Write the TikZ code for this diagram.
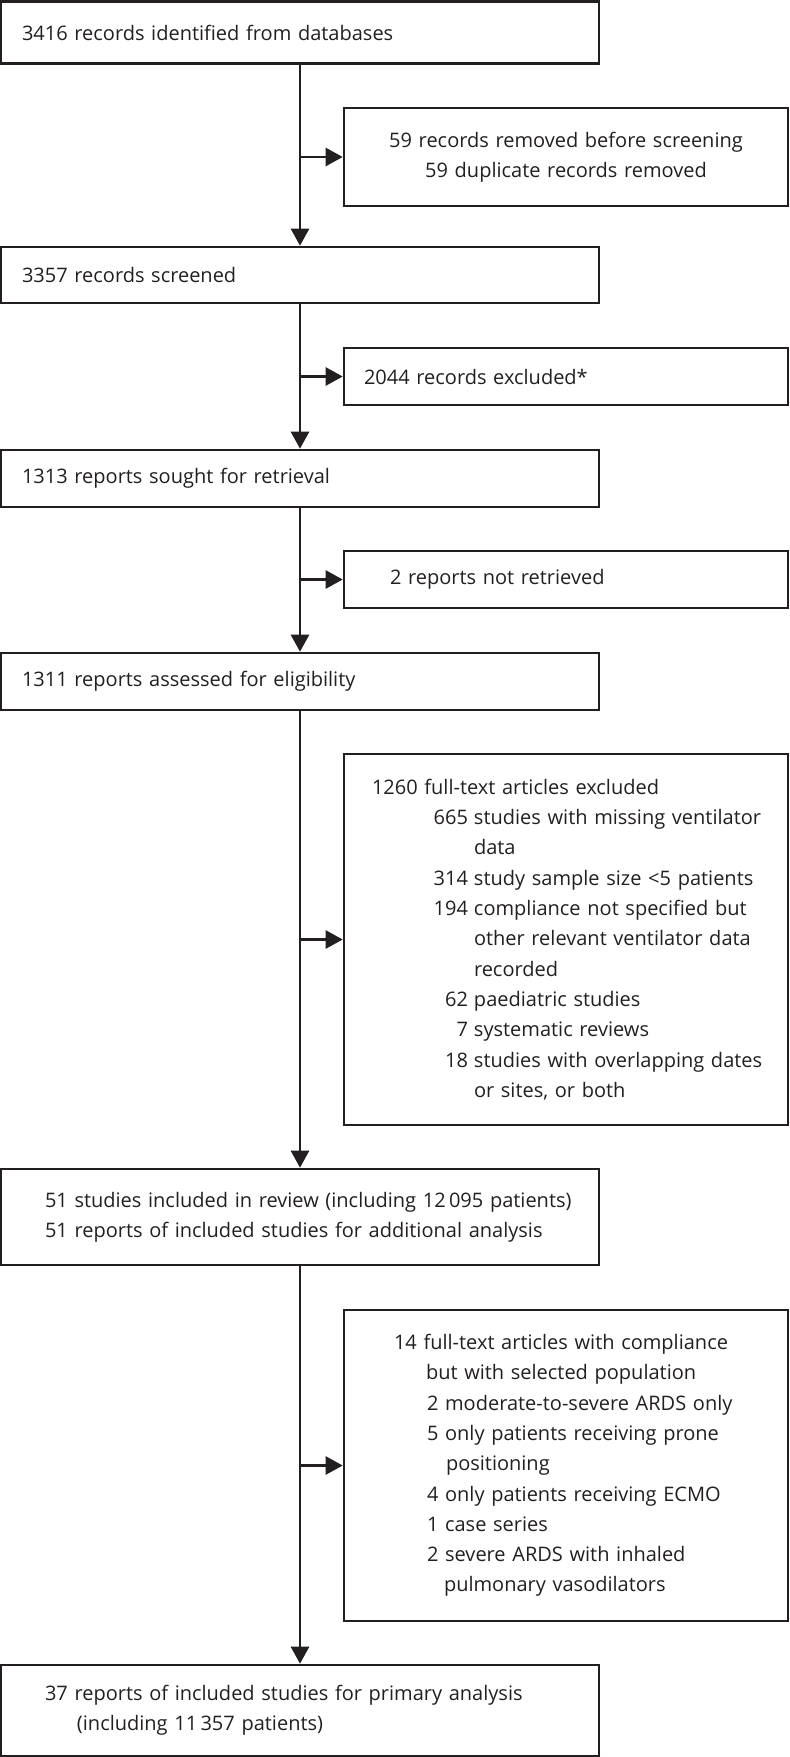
\documentclass[tikz,border=0pt]{standalone}
\usepackage{fontspec}
\setmainfont{Open Sans}
\usetikzlibrary{arrows.meta}
\definecolor{ink}{HTML}{231F20}
\newcommand\oneline[1]{\mbox{#1}}
\begin{document}
\begin{tikzpicture}[x=1pt,y=-1pt,
  every node/.style={font=\fontsize{20}{30.3}\selectfont, text=ink},
  mainbox/.style={draw=ink, line width=2.6pt, rectangle, minimum width=598pt,
     text width=556pt, inner xsep=21pt, inner ysep=0pt, align=left},
  sidebox/.style={draw=ink, line width=2.6pt, rectangle, minimum width=444pt,
     text width=404pt, inner xsep=20pt, inner ysep=0pt, align=left},
  arr/.style={draw=ink, line width=2.6pt, -{Triangle[length=17pt,width=18pt]}}
]
\useasboundingbox (0,0) rectangle (790,1757);
% main column
\node[mainbox, minimum height=62pt] (b1) at (300,32.5) {3416 records identified from databases};
\node[mainbox, minimum height=56pt] (b2) at (300,275) {3357 records screened};
\node[mainbox, minimum height=57pt] (b3) at (300,478.5) {1313 reports sought for retrieval};
\node[mainbox, minimum height=57pt] (b4) at (300,681.5) {1311 reports assessed for eligibility};
\node[mainbox, minimum height=96pt, inner xsep=44pt, text width=510pt] (b5) at (300,1217) {\oneline{51 studies included in review (including 12\,095 patients)}\\\oneline{51 reports of included studies for additional analysis}};
\node[mainbox, minimum height=91pt, inner xsep=44pt, text width=510pt] (b6) at (300,1710.5) {\oneline{37 reports of included studies for primary analysis}\\\oneline{\hspace*{32pt}(including 11\,357 patients)}};
% side boxes
\node[sidebox, minimum height=98pt, align=center] (s1) at (566,157) {59 records removed before screening\\59 duplicate records removed};
\node[sidebox, minimum height=57pt] (s2) at (566,376.5) {2044 records excluded*};
\node[sidebox, minimum height=57pt, inner xsep=46pt, text width=352pt] (s3) at (566,579.5) {2 reports not retrieved};
\node[sidebox, minimum height=371pt, inner xsep=28pt, text width=388pt] (s4) at (566,939.5) {\oneline{1260 full-text articles excluded}\\
\oneline{\hspace*{96pt}\makebox[0pt][r]{665}\hspace{6pt}studies with missing ventilator}\\
\oneline{\hspace*{102pt}data}\\
\oneline{\hspace*{96pt}\makebox[0pt][r]{314}\hspace{6pt}study sample size {<}5 patients}\\
\oneline{\hspace*{96pt}\makebox[0pt][r]{194}\hspace{6pt}compliance not specified but}\\
\oneline{\hspace*{102pt}other relevant ventilator data}\\
\oneline{\hspace*{102pt}recorded}\\
\oneline{\hspace*{96pt}\makebox[0pt][r]{62}\hspace{6pt}paediatric studies}\\
\oneline{\hspace*{96pt}\makebox[0pt][r]{7}\hspace{6pt}systematic reviews}\\
\oneline{\hspace*{96pt}\makebox[0pt][r]{18}\hspace{6pt}studies with overlapping dates}\\
\oneline{\hspace*{102pt}or sites, or both}};
\node[sidebox, minimum height=311pt, inner xsep=50pt, text width=344pt] (s5) at (566,1465.5) {\oneline{14 full-text articles with compliance}\\
\oneline{\hspace*{32pt}but with selected population}\\
\oneline{\hspace*{33pt}2 moderate-to-severe ARDS only}\\
\oneline{\hspace*{33pt}5 only patients receiving prone}\\
\oneline{\hspace*{52pt}positioning}\\
\oneline{\hspace*{33pt}4 only patients receiving ECMO}\\
\oneline{\hspace*{33pt}1 case series}\\
\oneline{\hspace*{33pt}2 severe ARDS with inhaled}\\
\oneline{\hspace*{50pt}pulmonary vasodilators}};
% connectors
\draw[arr] (b1) -- (b2);
\draw[arr] (b2) -- (b3);
\draw[arr] (b3) -- (b4);
\draw[arr] (b4) -- (b5);
\draw[arr] (b5) -- (b6);
\draw[arr] (b1.south |- s1.west) -- (s1.west);
\draw[arr] (b2.south |- s2.west) -- (s2.west);
\draw[arr] (b3.south |- s3.west) -- (s3.west);
\draw[arr] (b4.south |- s4.west) -- (s4.west);
\draw[arr] (b5.south |- s5.west) -- (s5.west);
\end{tikzpicture}
\end{document}
